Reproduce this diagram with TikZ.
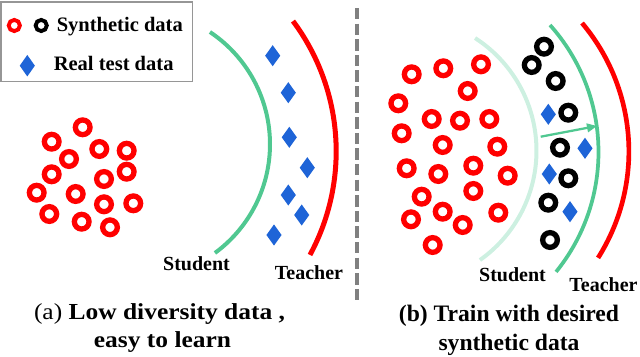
\documentclass[tikz,border=0pt]{standalone}
\usepackage{fontspec}
\setmainfont{Liberation Serif}
\newfontfamily\capafont[FakeStretch=1.11]{Liberation Serif}
\usetikzlibrary{shapes.geometric,arrows.meta}
\definecolor{synred}{RGB}{255,0,0}
\definecolor{stugreen}{RGB}{80,200,145}
\definecolor{oldgreen}{RGB}{205,240,225}
\definecolor{dblue}{RGB}{30,100,215}
\definecolor{divgrey}{RGB}{128,128,128}
\definecolor{boxgrey}{RGB}{150,150,150}
\begin{document}
\begin{tikzpicture}[x=0.75pt,y=-0.75pt,
  rc/.style={circle,draw=synred,line width=4pt,minimum size=11pt,inner sep=0pt},
  bc/.style={rc,draw=black},
  legc/.style={circle,line width=2.9pt,minimum size=8.4pt,inner sep=0pt},
  dia/.style={diamond,fill=dblue,draw=none,minimum width=11.5pt,minimum height=16pt,inner sep=0pt},
  legdia/.style={dia,minimum width=11.5pt,minimum height=16.3pt},
  lbl/.style={font=\bfseries\fontsize{15}{18}\selectfont,inner sep=0pt},
  legtxt/.style={font=\bfseries\fontsize{15.4}{18}\selectfont,inner sep=0pt,anchor=base west},
  capa/.style={font=\capafont\fontsize{17.2}{20}\selectfont,inner sep=0pt,anchor=base},
  capb/.style={font=\bfseries\fontsize{17.7}{21}\selectfont,inner sep=0pt,anchor=base},
  arcline/.style={line width=3pt},
  divider/.style={draw=divgrey,line width=3pt,dash pattern=on 8.6pt off 3.1pt}
]
\useasboundingbox (0,0) rectangle (640,357);

% legend
\draw[boxgrey,line width=1.4pt] (1,2) rectangle (192.5,81.5);
\node[legc,draw=synred] (lr) at (14.3,25.5) {};
\node[legc,draw=black] (lb) at (41.2,25.5) {};
\node[legtxt] (lt1) at (56.5,31.8) {Synthetic data};
\node[legdia] (ld) at (27.3,65.7) {};
\node[legtxt] (lt2) at (53.5,70.3) {Real test data};

% divider
\coordinate (dtop) at (357.3,8);
\coordinate (dbot) at (357.3,303);
\draw[divider] (dtop) -- (dbot);

% ---------- panel (a) ----------
\draw[stugreen,arcline] (135.1,144.25) ++(-56.3:134.9) arc[start angle=-56.3,end angle=53.7,radius=134.9];
\draw[synred,line width=3.75pt] (118.3,151.3) ++(-36.7:217.9) arc[start angle=-36.7,end angle=28.4,radius=217.9];

\foreach \x/\y [count=\i] in {82.7/127.3,51.7/141.7,99.3/149,126.7/150.7,69/159,51.7/174.3,126.7/171.7,104/179,36.7/192.7,75.7/194,104/204.3,133.3/203.3,49.3/214,81.7/221.7,110/227.3}
  \node[rc] (a\i) at (\x,\y) {};

\foreach \x/\y [count=\i] in {272.7/55.7,288.3/92.7,289.3/137.3,307.3/167.7,288.3/195,301.7/215,274/235}
  \node[dia] (ad\i) at (\x,\y) {};

\node[lbl,anchor=base] (astu) at (196.5,270.8) {Student};
\node[lbl,anchor=base] (atea) at (309,279) {Teacher};

\node[capa] (capa1) at (159.5,319) {(a) \textbf{Low diversity data ,}};
\node[capa] (capa2) at (162.5,347.3) {\textbf{easy to learn}};

% ---------- panel (b) ----------
\draw[oldgreen,line width=3pt] (402.5,150.7) ++(-57.2:134) arc[start angle=-57.2,end angle=54.7,radius=134];
\draw[stugreen,line width=2.8pt] (408,152) ++(-41.8:190.5) arc[start angle=-41.8,end angle=39,radius=190.5];
\draw[synred,line width=3.5pt] (429.6,151.4) ++(-40.1:199.3) arc[start angle=-40.1,end angle=32.3,radius=199.3];

\foreach \x/\y [count=\i] in {411.7/74.3,443.3/68.3,481/64.3,467.7/91,398.3/103.3,431.7/119,460/120.7,489.3/119,401.7/133.3,442.7/145,497.3/146.7,406.7/168.3,438.3/174,473.3/165.7,507.7/175.7,421.7/196.7,473.3/191,442.7/211.7,411/219.3,462.7/225,498.3/212.7,432.7/245}
  \node[rc] (b\i) at (\x,\y) {};

\foreach \x/\y [count=\i] in {544/46.7,531.7/65,555.7/81,568.3/112.7,560/147.7,568.3/178.3,548.3/202.7,550/240}
  \node[bc] (k\i) at (\x,\y) {};

\foreach \x/\y [count=\i] in {548.3/114.3,585/148.3,549.3/174,570/211.7}
  \node[dia] (bd\i) at (\x,\y) {};

\coordinate (arrs) at (540.7,136.7);
\coordinate (arre) at (597,126);
\draw[stugreen,line width=1.7pt,-{Triangle[length=7.5pt,width=6.5pt]}] (arrs) -- (arre);

\node[lbl,anchor=base] (bstu) at (512.5,281.7) {Student};
\node[lbl,anchor=base] (btea) at (603.5,291.7) {Teacher};

\node[capb] (capb1) at (509,321.7) {(b) Train with desired};
\node[capb] (capb2) at (509,350) {synthetic data};
\end{tikzpicture}
\end{document}
